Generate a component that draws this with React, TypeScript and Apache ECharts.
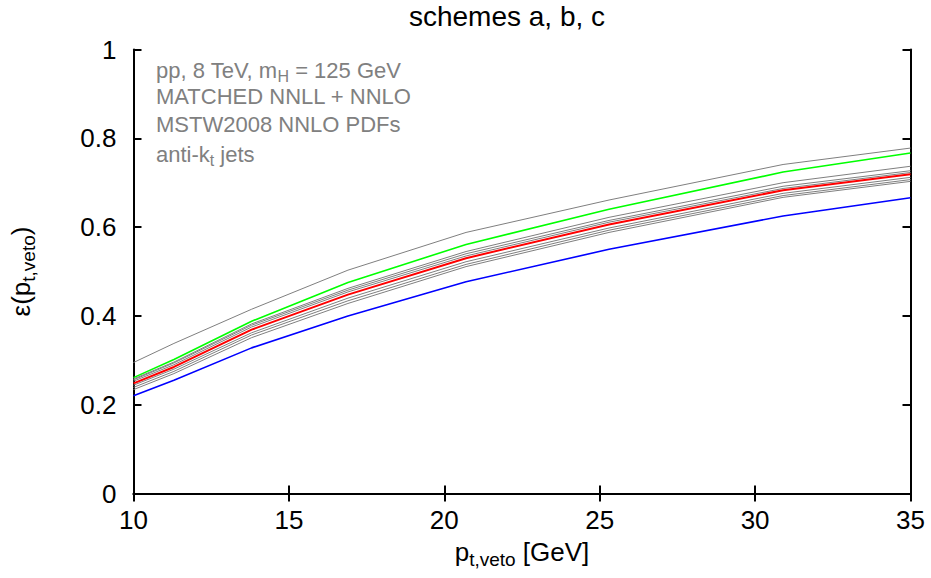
import React, { useEffect, useRef } from "react";
import * as echarts from "echarts";

const xPoints = [10, 11.3, 13.8, 16.9, 20.7, 25.3, 30.9, 35];

const greyTop = [0.295, 0.338, 0.415, 0.503, 0.588, 0.661, 0.741, 0.778];
const grey1 = [0.258, 0.296, 0.382, 0.462, 0.545, 0.622, 0.700, 0.737];
const grey2 = [0.256, 0.294, 0.379, 0.458, 0.540, 0.615, 0.692, 0.727];
const grey3 = [0.253, 0.290, 0.375, 0.454, 0.535, 0.611, 0.687, 0.723];
const grey5 = [0.244, 0.280, 0.362, 0.440, 0.522, 0.598, 0.676, 0.712];
const grey6 = [0.239, 0.275, 0.357, 0.434, 0.516, 0.593, 0.671, 0.707];
const grey7 = [0.234, 0.270, 0.351, 0.428, 0.511, 0.588, 0.667, 0.703];
const green = [0.261, 0.302, 0.388, 0.475, 0.561, 0.640, 0.724, 0.767];
const red = [0.248, 0.285, 0.369, 0.448, 0.530, 0.606, 0.683, 0.719];
const blue = [0.220, 0.255, 0.328, 0.400, 0.477, 0.550, 0.625, 0.666];

const greys = [greyTop, grey1, grey2, grey3, grey5, grey6, grey7];

const FONT = "'Liberation Sans', Arial, Helvetica, sans-serif";

function pairs(ys: number[]) {
  return xPoints.map((x, i) => [x, ys[i]]);
}

export default function App() {
  const ref = useRef<HTMLDivElement>(null);
  useEffect(() => {
    if (!ref.current) return;
    const chart = echarts.init(ref.current, undefined, { renderer: "svg" });
    const lineSeries = (ys: number[], color: string, width: number, name: string) => ({
      type: "line",
      name,
      data: pairs(ys),
      showSymbol: false,
      symbol: "none",
      lineStyle: { color, width },
      silent: true,
      clip: true,
    });
    const axisLine = { show: true, lineStyle: { color: "#000", width: 2 } };
    const tick = { show: true, inside: true, length: 8, lineStyle: { color: "#000", width: 2 } };
    chart.setOption({
      animation: false,
      backgroundColor: "#fff",
      title: {
        text: "schemes a, b, c",
        left: 502,
        top: -3,
        textAlign: "center",
        textStyle: { fontFamily: FONT, fontSize: 28, fontWeight: "normal", color: "#000" },
      },
      grid: {
        left: 133.5,
        top: 49.5,
        width: 777,
        height: 444,
        containLabel: false,
        outerBoundsMode: "none",
      },
      xAxis: [
        {
          type: "value",
          min: 10,
          max: 35,
          interval: 5,
          position: "bottom",
          axisLine,
          axisTick: tick,
          splitLine: { show: false },
          axisLabel: { fontFamily: FONT, fontSize: 26, color: "#000", margin: 13 },
          name: "{n|p}{s|t,veto}{n| [GeV]}",
          nameLocation: "middle",
          nameGap: 42,
          nameTextStyle: {
            rich: {
              n: { fontFamily: FONT, fontSize: 26, color: "#000" },
              s: { fontFamily: FONT, fontSize: 19, color: "#000", padding: [14, 0, 0, 0] },
            },
          },
        },
        {
          type: "value",
          min: 10,
          max: 35,
          interval: 5,
          position: "top",
          axisLine,
          axisTick: tick,
          splitLine: { show: false },
          axisLabel: { show: false },
        },
      ],
      yAxis: [
        {
          type: "value",
          min: 0,
          max: 1,
          interval: 0.2,
          position: "left",
          axisLine,
          axisTick: tick,
          splitLine: { show: false },
          axisLabel: { fontFamily: FONT, fontSize: 26, color: "#000", margin: 17 },
          name: "{n|ε(p}{s|t,veto}{n|)}",
          nameLocation: "middle",
          nameGap: 96,
          nameRotate: 90,
          nameTextStyle: {
            rich: {
              n: { fontFamily: FONT, fontSize: 26, color: "#000" },
              s: { fontFamily: FONT, fontSize: 19, color: "#000", padding: [14, 0, 0, 0] },
            },
          },
        },
        {
          type: "value",
          min: 0,
          max: 1,
          interval: 0.2,
          position: "right",
          axisLine,
          axisTick: tick,
          splitLine: { show: false },
          axisLabel: { show: false },
        },
      ],
      graphic: [
        {
          type: "group",
          left: 156,
          top: 59,
          children: [
            {
              type: "text",
              x: 0,
              y: 0,
              style: {
                text: "{n|pp, 8 TeV, m}{s|H}{n| = 125 GeV}",
                rich: {
                  n: { fontFamily: FONT, fontSize: 22, fill: "#808080" },
                  s: { fontFamily: FONT, fontSize: 16, fill: "#808080", padding: [12, 0, 0, 0] },
                },
              },
            },
            {
              type: "text",
              x: 0,
              y: 29,
              style: { text: "MATCHED NNLL + NNLO", font: `22px ${FONT}`, fill: "#808080" },
            },
            {
              type: "text",
              x: 0,
              y: 57,
              style: { text: "MSTW2008 NNLO PDFs", font: `22px ${FONT}`, fill: "#808080" },
            },
            {
              type: "text",
              x: 0,
              y: 84,
              style: {
                text: "{n|anti-k}{s|t}{n| jets}",
                rich: {
                  n: { fontFamily: FONT, fontSize: 22, fill: "#808080" },
                  s: { fontFamily: FONT, fontSize: 16, fill: "#808080", padding: [12, 0, 0, 0] },
                },
              },
            },
          ],
        },
      ],
      series: [
        ...greys.map((g, i) => lineSeries(g, "#7f7f7f", 1, "grey" + i)),
        lineSeries(green, "#00ff00", 1.6, "green"),
        lineSeries(red, "#ff0000", 2, "red"),
        lineSeries(blue, "#0000ff", 1.6, "blue"),
      ],
    });
    return () => chart.dispose();
  }, []);
  return (
    <div
      ref={ref}
      style={{ position: "fixed", left: 0, top: 0, width: 931, height: 578, background: "#fff" }}
    />
  );
}
